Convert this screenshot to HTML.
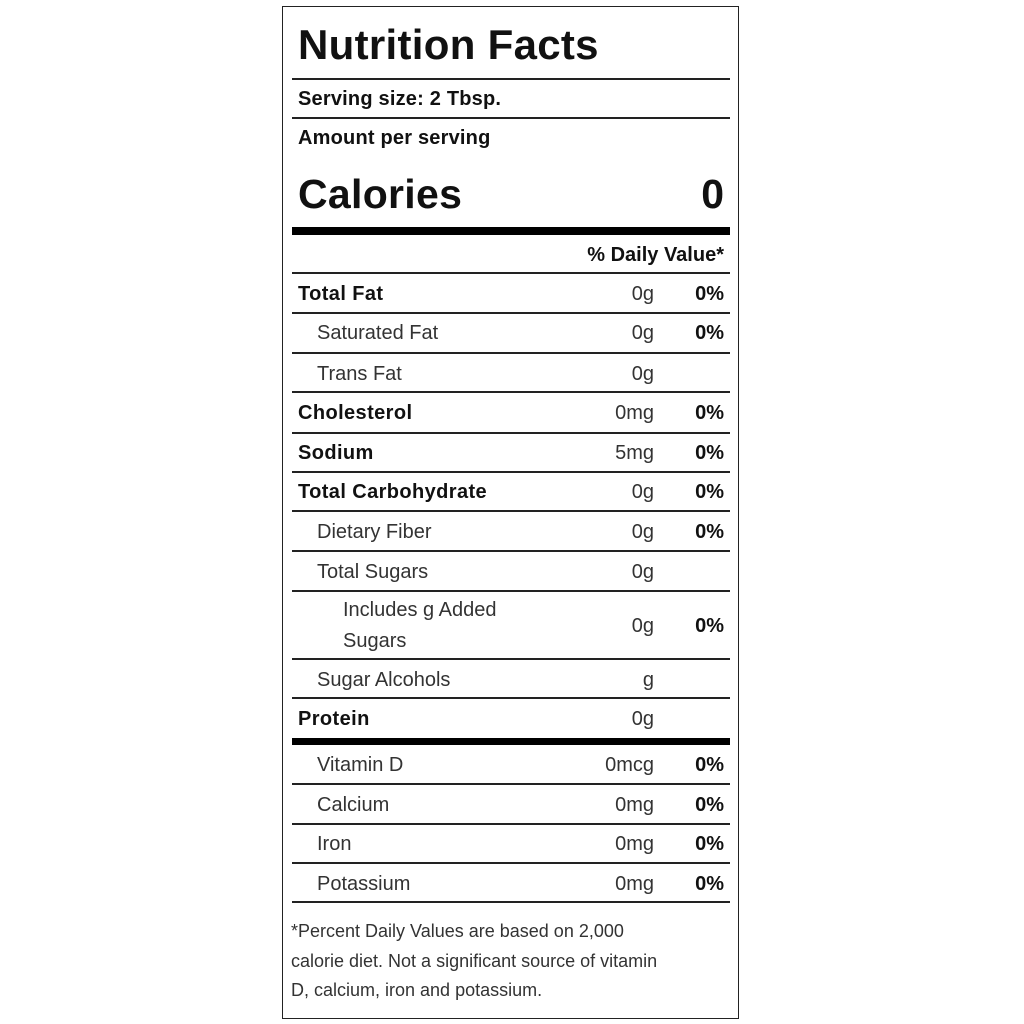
<!DOCTYPE html>
<html><head><meta charset="utf-8"><style>
body{margin:0;width:1024px;height:1024px;background:#fff;position:relative;font-family:"Liberation Sans",sans-serif;color:#111}
.box{position:absolute;left:282px;top:6px;width:455px;height:1011px;border:1.5px solid #222}
.hl{position:absolute;left:292px;width:438px;height:1.5px;background:#222}
.tb{position:absolute;left:292px;width:438px;background:#000}
.r{position:absolute;left:292px;width:438px;font-size:20px;white-space:nowrap}
.r .l{position:absolute;left:6px;letter-spacing:0.4px}
.r .lt{position:absolute;left:25px;color:#333}
.r .a{position:absolute;right:76px;color:#333}
.r .p{position:absolute;right:6px;font-weight:bold}
b{font-weight:bold}
</style></head><body>
<div class="box"></div>
<div style="position:absolute;left:298px;top:20px;font-size:42px;font-weight:bold;line-height:50px;letter-spacing:0.3px">Nutrition Facts</div>
<div class="hl" style="top:78px"></div>
<div style="position:absolute;left:298px;top:87px;font-size:20px;font-weight:bold;line-height:24px;letter-spacing:0.2px">Serving size: 2 Tbsp.</div>
<div class="hl" style="top:117px"></div>
<div style="position:absolute;left:298px;top:126px;font-size:20px;font-weight:bold;line-height:24px;letter-spacing:0.2px">Amount per serving</div>
<div style="position:absolute;left:298px;top:169px;font-size:41px;font-weight:bold;line-height:50px;letter-spacing:0.3px">Calories</div>
<div style="position:absolute;right:300px;top:169px;font-size:41px;font-weight:bold;line-height:50px">0</div>
<div class="tb" style="top:227px;height:8px"></div>
<div class="r" style="top:236px;height:38px;line-height:38px"><span class="p">% Daily Value*</span></div>
<div class="hl" style="top:272px"></div>

<div class="r" style="top:274px;height:40px;line-height:40px"><span class="l"><b>Total Fat</b></span><span class="a">0g</span><span class="p">0%</span></div>
<div class="hl" style="top:312px"></div>
<div class="r" style="top:314px;height:39px;line-height:39px"><span class="lt">Saturated Fat</span><span class="a">0g</span><span class="p">0%</span></div>
<div class="hl" style="top:352px"></div>
<div class="r" style="top:354px;height:40px;line-height:40px"><span class="lt">Trans Fat</span><span class="a">0g</span></div>
<div class="hl" style="top:391px"></div>
<div class="r" style="top:393px;height:40px;line-height:40px"><span class="l"><b>Cholesterol</b></span><span class="a">0mg</span><span class="p">0%</span></div>
<div class="hl" style="top:432px"></div>
<div class="r" style="top:433px;height:40px;line-height:40px"><span class="l"><b>Sodium</b></span><span class="a">5mg</span><span class="p">0%</span></div>
<div class="hl" style="top:471px"></div>
<div class="r" style="top:472px;height:40px;line-height:40px"><span class="l"><b>Total Carbohydrate</b></span><span class="a">0g</span><span class="p">0%</span></div>
<div class="hl" style="top:510px"></div>
<div class="r" style="top:512px;height:40px;line-height:40px"><span class="lt">Dietary Fiber</span><span class="a">0g</span><span class="p">0%</span></div>
<div class="hl" style="top:550px"></div>
<div class="r" style="top:552px;height:40px;line-height:40px"><span class="lt">Total Sugars</span><span class="a">0g</span></div>
<div class="hl" style="top:590px"></div>
<div class="r" style="top:592px;height:68px;line-height:68px"><span class="lt" style="left:51px;line-height:31px;top:3px">Includes g Added<br>Sugars</span><span class="a">0g</span><span class="p">0%</span></div>
<div class="hl" style="top:658px"></div>
<div class="r" style="top:660px;height:40px;line-height:40px"><span class="lt">Sugar Alcohols</span><span class="a">g</span></div>
<div class="hl" style="top:697px"></div>
<div class="r" style="top:699px;height:40px;line-height:40px"><span class="l"><b>Protein</b></span><span class="a">0g</span></div>
<div class="tb" style="top:738px;height:7px"></div>
<div class="r" style="top:746px;height:39px;line-height:39px"><span class="lt">Vitamin D</span><span class="a">0mcg</span><span class="p">0%</span></div>
<div class="hl" style="top:783px"></div>
<div class="r" style="top:785px;height:40px;line-height:40px"><span class="lt">Calcium</span><span class="a">0mg</span><span class="p">0%</span></div>
<div class="hl" style="top:823px"></div>
<div class="r" style="top:824px;height:40px;line-height:40px"><span class="lt">Iron</span><span class="a">0mg</span><span class="p">0%</span></div>
<div class="hl" style="top:862px"></div>
<div class="r" style="top:864px;height:40px;line-height:40px"><span class="lt">Potassium</span><span class="a">0mg</span><span class="p">0%</span></div>
<div class="hl" style="top:901px"></div>
<div style="position:absolute;left:291px;top:917px;width:445px;font-size:18px;line-height:29.5px;color:#333">*Percent Daily Values are based on 2,000<br>calorie diet. Not a significant source of vitamin<br>D, calcium, iron and potassium.</div>
</body></html>
